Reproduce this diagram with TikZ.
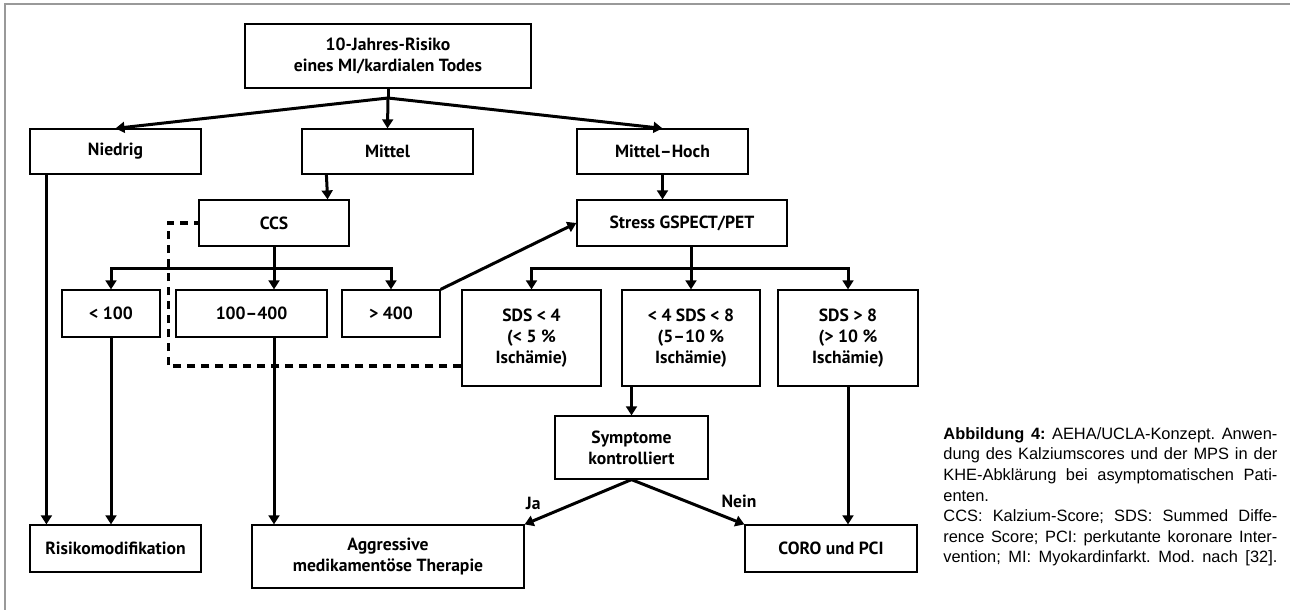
\documentclass[tikz,border=0pt]{standalone}
\usepackage{fontspec}
\setmainfont{Liberation Sans}
\newfontfamily\boxfont{PT Sans}[Ligatures=TeX]
\usetikzlibrary{arrows.meta}

\begin{document}
\begin{tikzpicture}[x=0.5pt,y=-0.5pt,
    box/.style={draw, line width=0.6pt, align=center, inner sep=2pt, font=\boxfont\bfseries\fontsize{8.8}{10.5}\selectfont},
    arrline/.style={line width=1.5pt, -{Triangle[length=4.5pt,width=5.4pt]}},
    plainline/.style={line width=1.5pt},
    dashconn/.style={line width=1.6pt, dash pattern=on 4pt off 3pt},
    lbl/.style={inner sep=1pt, font=\boxfont\bfseries\fontsize{8.8}{10.5}\selectfont}]
    \useasboundingbox (0,0) rectangle (1290,610);
    \draw[gray!80, line width=0.8pt] (5,610) -- (5,4) -- (1290,4);

    % Risiko-Stufen
    \node[box, minimum width=143pt, minimum height=32pt] (top) at (388,56) {10-Jahres-Risiko\\eines MI/kardialen Todes};
    \node[box, minimum width=85.5pt, minimum height=22.5pt] (niedrig) at (115.5,151.5) {Niedrig};
    \node[box, minimum width=85.5pt, minimum height=22.5pt] (mittel) at (387.5,151.5) {Mittel};
    \node[box, minimum width=85.5pt, minimum height=22.5pt] (mhoch) at (662.5,151.5) {Mittel--Hoch};

    % Tests
    \node[box, minimum width=75pt, minimum height=23pt] (ccs) at (274,223) {CCS};
    \node[box, minimum width=105pt, minimum height=23pt] (stress) at (682,223) {Stress GSPECT/PET};

    % Ergebnisse
    \node[box, minimum width=49pt, minimum height=23.5pt] (lt100) at (111,313.5) {< 100};
    \node[box, minimum width=75.5pt, minimum height=23.5pt] (mid) at (251.5,313.5) {100--400};
    \node[box, minimum width=49pt, minimum height=23.5pt] (gt400) at (391,313.5) {> 400};
    \node[box, minimum width=69.5pt, minimum height=48pt] (sds1) at (531.5,338) {SDS < 4\\(< 5 \%\\Ischämie)};
    \node[box, minimum width=69pt, minimum height=48pt] (sds2) at (691,338) {< 4 SDS < 8\\(5--10 \%\\Ischämie)};
    \node[box, minimum width=70pt, minimum height=48pt] (sds3) at (848,338) {SDS > 8\\(> 10 \%\\Ischämie)};
    \node[box, minimum width=76.5pt, minimum height=31.5pt] (sympt) at (631.5,447.5) {Symptome\\kontrolliert};

    % Therapie
    \node[box, minimum width=85.5pt, minimum height=23.5pt] (risiko) at (115.5,548.5) {Risikomodifikation};
    \node[box, minimum width=136pt, minimum height=31.5pt] (aggr) at (388,556.5) {Aggressive\\medikamentöse Therapie};
    \node[box, minimum width=86pt, minimum height=23.5pt] (coro) at (831,548.5) {CORO und PCI};

    % Verbindungen
    \coordinate (fork) at (388,98);
    \draw[plainline] (top.south) -- (fork);
    \draw[arrline] (fork) -- (niedrig.north);
    \draw[arrline] (fork) -- (mittel.north);
    \draw[arrline] (fork) -- (mhoch.north);
    \draw[arrline] ([xshift=8.5pt]niedrig.south west) -- ([xshift=8.5pt]risiko.north west);
    \draw[arrline] ([xshift=12.5pt]mittel.south west) -- ([xshift=-11pt]ccs.north east);
    \draw[arrline] (mhoch.south) -- (mhoch.south |- stress.north);

    \draw[plainline] (ccs.south) -- ++(0,22) coordinate (cbus);
    \draw[arrline] (cbus) -| (lt100.north);
    \draw[arrline] (cbus) -- (mid.north -| cbus);
    \draw[arrline] (cbus) -| (gt400.north);
    \draw[arrline] (lt100.south) -- (lt100.south |- risiko.north);
    \draw[arrline] (mid.south -| ccs.south) -- (ccs.south |- aggr.north);
    \draw[arrline] (gt400.north east) -- (stress.west);

    \draw[plainline] (sds2.north |- stress.south) -- ++(0,22) coordinate (sbus);
    \draw[arrline] (sbus) -| (sds1.north);
    \draw[arrline] (sbus) -- (sds2.north);
    \draw[arrline] (sbus) -| (sds3.north);
    \draw[arrline] (sympt.north |- sds2.south) -- (sympt.north);
    \draw[arrline] (sds3.south) -- (sds3.south |- coro.north);
    \draw[arrline] (sympt.south) -- node[pos=0.8, above left=1pt, lbl] {Ja} (aggr.north east);
    \draw[arrline] (sympt.south) -- node[pos=0.75, above right=1pt, lbl] {Nein} (coro.north west);
    \draw[dashconn] ([yshift=-14pt]sds1.west) -- ++(-293,0) |- (ccs.west);

    % Legende
    \node[anchor=north west, text width=167pt, align=justify, inner sep=0pt, font=\fontsize{8.2}{10.3}\selectfont] (caption) at (943,427) {\frenchspacing\setlength\parindent{0pt}\textbf{Abbildung 4:} AEHA/UCLA-Konzept. Anwen-\linebreak dung des Kalziumscores und der MPS in der\linebreak KHE-Abklärung bei asymptomatischen Pati-\linebreak enten.\par
    {\parfillskip=0pt CCS: Kalzium-Score; SDS: Summed Diffe-\linebreak rence Score; PCI: perkutante koronare Inter-\linebreak vention; MI: Myokardinfarkt. Mod. nach [32].\par}};
\end{tikzpicture}
\end{document}
